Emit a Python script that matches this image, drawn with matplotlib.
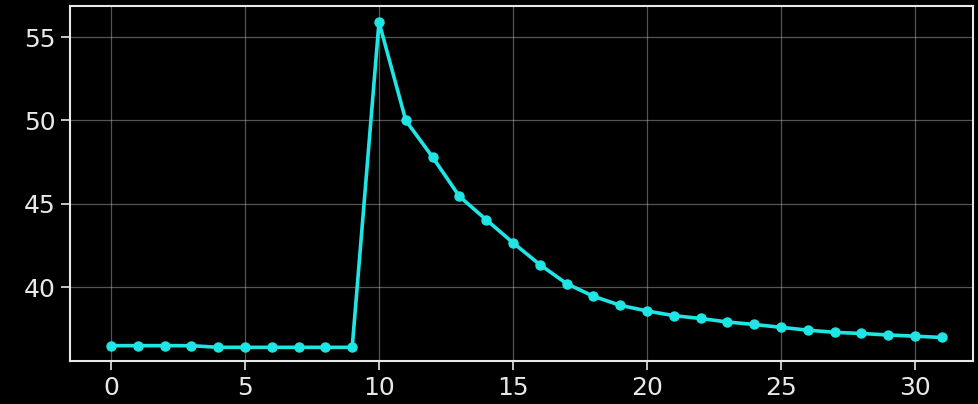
import matplotlib
matplotlib.use("Agg")
import matplotlib.pyplot as plt

x_values = list(range(32))
y_values = [36.5, 36.5, 36.5, 36.5, 36.4, 36.4, 36.4, 36.4, 36.4, 36.4,
            55.9, 50.0, 47.8, 45.45, 44.05, 42.67, 41.36, 40.22, 39.46, 38.92,
            38.58, 38.3, 38.13, 37.92, 37.77, 37.6, 37.43, 37.3, 37.23, 37.14,
            37.07, 36.99]
x_ticks = [0, 5, 10, 15, 20, 25, 30]
y_ticks = [40, 45, 50, 55]

plt.style.use("dark_background")
fig = plt.figure(figsize=(9.79, 4.04), dpi=100)
ax = fig.add_axes([0.0715, 0.106, 0.922, 0.879])
ax.plot(x_values, y_values, color="#1fe5e5", linewidth=2.6, marker="o", markersize=6.5)
ax.set_xlim(-1.53, 32.15)
ax.set_ylim(35.57, 56.86)
ax.set_xticks(x_ticks)
ax.set_yticks(y_ticks)
ax.grid(True, color="#bbbbbb", alpha=0.45, linewidth=0.9)
for s in ax.spines.values():
    s.set_color("#e8e8e8")
    s.set_linewidth(1.5)
ax.tick_params(labelsize=18, colors="#e8e8e8", length=6.5, width=1.2, pad=4)
fig.savefig("out.png", dpi=100, facecolor="black")
